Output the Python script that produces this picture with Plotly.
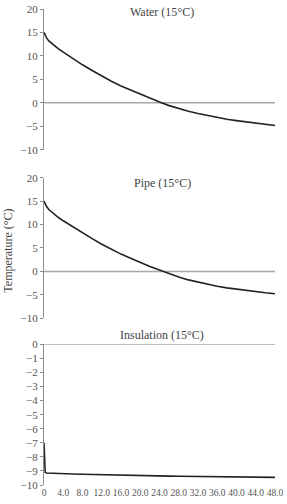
import plotly.graph_objects as go

# ---- data ----
time_h = [0, 0.1, 0.25, 0.5, 1, 2, 3, 4, 6, 8, 10, 12, 14, 16, 18, 20, 22, 24,
          26, 28, 30, 32, 34, 36, 38, 40, 42, 44, 46, 48]

water = [15.0, 14.7, 14.4, 13.9, 13.2, 12.3, 11.5, 10.8, 9.4, 8.1, 6.9, 5.7, 4.6,
         3.6, 2.7, 1.8, 0.95, 0.15, -0.6, -1.25, -1.8, -2.3, -2.75, -3.15, -3.5,
         -3.8, -4.1, -4.35, -4.6, -4.85]

pipe = [15.0, 14.7, 14.4, 13.9, 13.2, 12.3, 11.5, 10.8, 9.5, 8.2, 7.0, 5.8, 4.7,
        3.7, 2.8, 1.9, 1.05, 0.3, -0.5, -1.2, -1.8, -2.3, -2.75, -3.15, -3.5,
        -3.8, -4.1, -4.35, -4.55, -4.75]

insulation = [-7.0, -8.85, -9.1, -9.15, -9.16, -9.18, -9.19, -9.2, -9.22, -9.24,
              -9.26, -9.28, -9.3, -9.31, -9.32, -9.34, -9.35, -9.36, -9.37, -9.38,
              -9.39, -9.4, -9.41, -9.42, -9.42, -9.43, -9.44, -9.44, -9.45, -9.46]

panel_titles = ["Water (15°C)", "Pipe (15°C)", "Insulation (15°C)"]
x_tickvals = [0, 4, 8, 12, 16, 20, 24, 28, 32, 36, 40, 44, 48]
x_ticktext = ["0", "4.0", "8.0", "12.0", "16.0", "20.0", "24.0", "28.0", "32.0",
              "36.0", "40.0", "44.0", "48.0"]
y_ticks_top = [-10, -5, 0, 5, 10, 15, 20]
y_ticks_bottom = [-10, -9, -8, -7, -6, -5, -4, -3, -2, -1, 0]
y_title = "Temperature (°C)"

# ---- style ----
FONT = "Liberation Serif"
TXT = "#555555"
AXC = "#8c8c8c"
LINE = "#222222"

fig = go.Figure()
series = [water, pipe, insulation]
axes = [("x", "y"), ("x2", "y2"), ("x3", "y3")]
for vals, (xa, ya) in zip(series, axes):
    fig.add_trace(go.Scatter(x=time_h, y=vals, mode="lines", xaxis=xa, yaxis=ya,
                             line=dict(color=LINE, width=1.6), showlegend=False,
                             hoverinfo="skip"))

domains = [[0.7044, 1.0], [0.3501, 0.6457], [0.0, 0.2956]]
yranges = [[-10, 20], [-10, 20], [-10, 0]]
ytickvals = [y_ticks_top, y_ticks_top, y_ticks_bottom]

layout = dict(
    width=287, height=504,
    margin=dict(l=44, r=3, t=8, b=19),
    paper_bgcolor="white", plot_bgcolor="white",
    font=dict(family=FONT, color=TXT, size=11),
)
for i in range(3):
    xs = "xaxis" if i == 0 else f"xaxis{i+1}"
    ys = "yaxis" if i == 0 else f"yaxis{i+1}"
    layout[xs] = dict(
        range=[0, 48], anchor="y" if i == 0 else f"y{i+1}",
        showgrid=False, zeroline=False, showline=False, ticks="",
        tickvals=x_tickvals, ticktext=x_ticktext, ticklabeloverflow="allow",
        showticklabels=(i == 2), tickfont=dict(size=9.5, family=FONT, color=TXT),
        domain=[0, 1],
    )
    layout[ys] = dict(
        range=yranges[i], domain=domains[i],
        anchor="x" if i == 0 else f"x{i+1}",
        showgrid=False, zeroline=False, showline=True, linecolor=AXC, linewidth=1,
        ticks="outside", ticklen=3, tickcolor=AXC, tickwidth=1,
        tickvals=ytickvals[i], tickfont=dict(size=11, family=FONT, color=TXT),
    )
fig.update_layout(**layout)

# zero reference lines
for i in range(3):
    xr = "x domain" if i == 0 else f"x{i+1} domain"
    yr = "y" if i == 0 else f"y{i+1}"
    fig.add_shape(type="line", xref=xr, yref=yr, x0=0, x1=1, y0=0, y1=0,
                  line=dict(color="#a8a8a8", width=1.5), layer="below")

# panel titles
title_y = [1.0, 0.6457, 0.2956]
title_shift = [-3, -5, 9]
for i, t in enumerate(panel_titles):
    fig.add_annotation(text=t, xref="paper", yref="paper", x=0.5125, y=title_y[i],
                       yshift=title_shift[i], xanchor="center", yanchor="middle",
                       showarrow=False, font=dict(size=12, family=FONT, color="#444444"))

# y axis title
fig.add_annotation(text=y_title, xref="paper", yref="paper", x=-0.155, y=0.4927,
                   xanchor="center", yanchor="middle", textangle=-90, showarrow=False,
                   font=dict(size=12, family=FONT, color="#444444"))

fig.write_html("out.html")
